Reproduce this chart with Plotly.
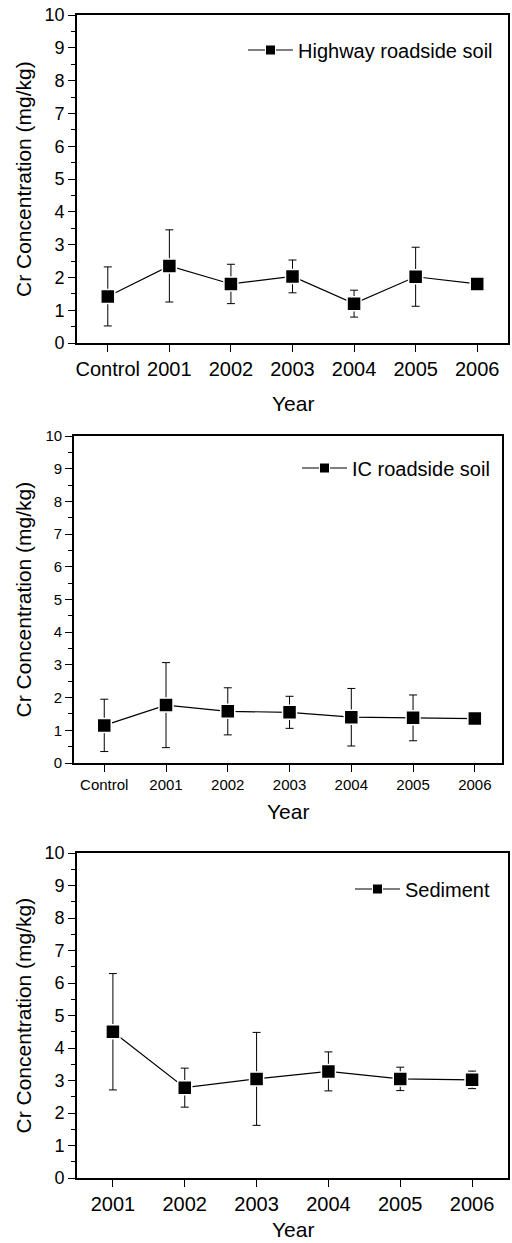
import plotly.graph_objects as go

# ---------------- data ----------------
cats_soil = ["Control", "2001", "2002", "2003", "2004", "2005", "2006"]
hw_mean = [1.42, 2.35, 1.80, 2.03, 1.20, 2.02, 1.80]
hw_err = [0.90, 1.10, 0.60, 0.50, 0.41, 0.90, 0.08]

ic_mean = [1.15, 1.77, 1.58, 1.55, 1.40, 1.38, 1.36]
ic_err = [0.80, 1.30, 0.72, 0.49, 0.88, 0.70, 0.06]

cats_sed = ["2001", "2002", "2003", "2004", "2005", "2006"]
sed_mean = [4.50, 2.78, 3.05, 3.28, 3.05, 3.02]
sed_err = [1.79, 0.60, 1.43, 0.60, 0.36, 0.27]

y_ticks = [0, 1, 2, 3, 4, 5, 6, 7, 8, 9, 10]
names = ["Highway roadside soil", "IC roadside soil", "Sediment"]
y_title = "Cr Concentration (mg/kg)"
x_title = "Year"

# ---------------- layout geometry ----------------
W, H = 512, 1243
FONT = "Arial, 'Liberation Sans', sans-serif"

def fx(px):
    return px / W

def fy(px):
    return 1 - px / H

panels = [
    dict(x=(77, 508), y=(15, 343), xr=[-0.5, 6.5], tf=18, xtf=20, cats=cats_soil,
         mean=hw_mean, err=hw_err, leg=(243, 50), ytitle_x=23, xtitle_y=403),
    dict(x=(74, 502), y=(436, 763), xr=[-0.49, 6.44], tf=15, xtf=15, cats=cats_soil,
         mean=ic_mean, err=ic_err, leg=(297, 468), ytitle_x=23, xtitle_y=811),
    dict(x=(77, 508), y=(853, 1178), xr=[-0.5, 5.5], tf=18, xtf=20, cats=cats_sed,
         mean=sed_mean, err=sed_err, leg=(350, 889), ytitle_x=23, xtitle_y=1229),
]

fig = go.Figure()
layout = dict(
    width=W, height=H,
    margin=dict(l=0, r=0, t=0, b=0),
    paper_bgcolor="white", plot_bgcolor="white",
    font=dict(family=FONT, color="black"),
    template="none",
    annotations=[],
)

for i, p in enumerate(panels):
    k = "" if i == 0 else str(i + 1)
    xa, ya = "x" + k, "y" + k
    fig.add_trace(go.Scatter(
        x=p["cats"], y=p["mean"], xaxis=xa, yaxis=ya,
        mode="lines+markers", showlegend=False,
        line=dict(color="black", width=1.2),
        marker=dict(symbol="square", size=14, color="black",
                    line=dict(color="white", width=1.5)),
        error_y=dict(type="data", array=p["err"], visible=True,
                     color="black", thickness=1, width=4),
    ))
    # legend entry
    fig.add_trace(go.Scatter(
        x=[None], y=[None], xaxis=xa, yaxis=ya, name=names[i],
        mode="lines+markers", showlegend=True,
        legend="legend" + k,
        line=dict(color="black", width=1.2),
        marker=dict(symbol="square", size=10, color="black",
                    line=dict(color="white", width=1)),
    ))
    layout["xaxis" + k] = dict(
        domain=[fx(p["x"][0]), fx(p["x"][1])], anchor=ya,
        type="category", categoryorder="array", categoryarray=p["cats"],
        range=p["xr"], showgrid=False, zeroline=False,
        showline=True, linecolor="black", linewidth=1.6, mirror=True,
        ticks="outside", ticklen=7, tickwidth=1.3, tickcolor="black",
        tickfont=dict(size=p["xtf"], family=FONT, color="black"),
        automargin=False, fixedrange=True,
    )
    layout["yaxis" + k] = dict(
        domain=[fy(p["y"][1]), fy(p["y"][0])], anchor=xa,
        range=[0, 10], tickvals=y_ticks, showgrid=False, zeroline=False,
        showline=True, linecolor="black", linewidth=1.6, mirror=True,
        ticks="outside", ticklen=7, tickwidth=1.3, tickcolor="black",
        minor=dict(dtick=0.5, ticks="outside", ticklen=4, tickwidth=1, tickcolor="black"),
        tickfont=dict(size=p["tf"], family=FONT, color="black"),
        automargin=False, fixedrange=True,
    )
    layout["legend" + k] = dict(
        x=fx(p["leg"][0]), y=fy(p["leg"][1]), xanchor="left", yanchor="middle",
        bgcolor="rgba(0,0,0,0)", borderwidth=0, itemwidth=45,
        font=dict(size=20, family=FONT, color="black"),
    )
    yc = (p["y"][0] + p["y"][1]) / 2
    layout["annotations"].append(dict(
        text=y_title, xref="paper", yref="paper", x=fx(p["ytitle_x"]), y=fy(yc),
        xanchor="center", yanchor="middle", textangle=-90, showarrow=False,
        font=dict(size=21, family=FONT, color="black"),
    ))
    xc = (p["x"][0] + p["x"][1]) / 2
    layout["annotations"].append(dict(
        text=x_title, xref="paper", yref="paper", x=fx(xc), y=fy(p["xtitle_y"]),
        xanchor="center", yanchor="middle", showarrow=False,
        font=dict(size=21, family=FONT, color="black"),
    ))

fig.update_layout(**layout)
fig.write_html("out.html")
